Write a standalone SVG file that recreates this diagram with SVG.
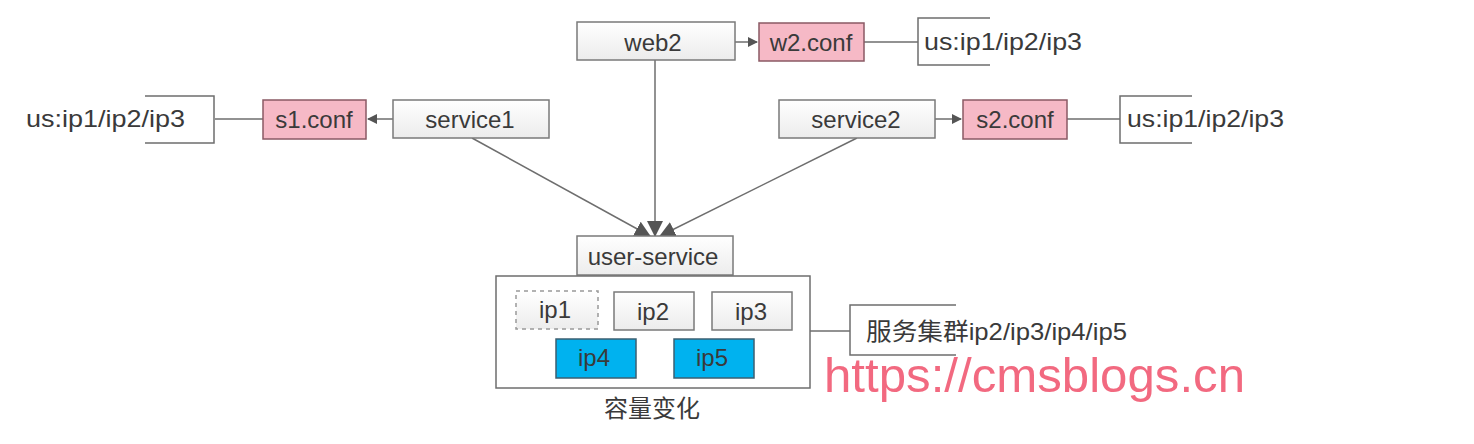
<svg xmlns="http://www.w3.org/2000/svg" width="1474" height="444" viewBox="0 0 1474 444">
<defs>
<linearGradient id="g" x1="0" y1="0" x2="0" y2="1"><stop offset="0" stop-color="#ffffff"/><stop offset="1" stop-color="#ececec"/></linearGradient>
<marker id="ah" markerWidth="10" markerHeight="10" refX="9" refY="5" orient="auto" markerUnits="userSpaceOnUse"><path d="M0,0 L10,5 L0,10 Z" fill="#555"/></marker>
<marker id="ah2" markerWidth="16" markerHeight="16" refX="15" refY="8" orient="auto" markerUnits="userSpaceOnUse"><path d="M0,0 L16,8 L0,16 Z" fill="#555"/></marker>
</defs>
<style>
.t{font-family:"Liberation Sans",Arial,"Noto Sans CJK SC",sans-serif;font-size:24px;fill:#3a3a3a}
.c{text-anchor:middle;dominant-baseline:central}
.box{fill:url(#g);stroke:#7a7a7a;stroke-width:1.5}
.pink{fill:#f6b9c6;stroke:#8a5a64;stroke-width:1.5}
.blue{fill:#00b2ef;stroke:#3b5f72;stroke-width:1.5}
.ln{stroke:#6e6e6e;stroke-width:1.5;fill:none}
.br{stroke:#6e6e6e;stroke-width:1.5;fill:none}
</style>
<rect width="1474" height="444" fill="#ffffff"/>
<g id="connectors">
<line class="ln" x1="735" y1="42" x2="757" y2="42" marker-end="url(#ah)"/>
<line class="ln" x1="864" y1="42" x2="918" y2="42"/>
<line class="ln" x1="393" y1="119" x2="368" y2="119" marker-end="url(#ah)"/>
<line class="ln" x1="263" y1="119" x2="215" y2="119"/>
<line class="ln" x1="935" y1="119" x2="961" y2="119" marker-end="url(#ah)"/>
<line class="ln" x1="1067" y1="119" x2="1120" y2="119"/>
<line class="ln" x1="472" y1="138" x2="650" y2="236" marker-end="url(#ah2)"/>
<line class="ln" x1="655" y1="60" x2="655" y2="236" marker-end="url(#ah2)"/>
<line class="ln" x1="857" y1="138" x2="660" y2="236" marker-end="url(#ah2)"/>
<line class="ln" x1="810" y1="331" x2="850" y2="331"/>
</g>
<g id="web2"><rect class="box" x="577" y="22" width="158" height="38"/><text class="t c" x="653" y="42">web2</text></g>
<g id="w2conf"><rect class="pink" x="759" y="23" width="105" height="38"/><text class="t c" x="811" y="42">w2.conf</text></g>
<g id="us-web2"><path class="br" d="M990,18 H918 V65 H990"/><text class="t" x="924" y="41" dominant-baseline="central" textLength="158" lengthAdjust="spacingAndGlyphs">us:ip1/ip2/ip3</text></g>
<g id="service1"><rect class="box" x="393" y="100" width="156" height="38"/><text class="t c" x="470" y="119">service1</text></g>
<g id="s1conf"><rect class="pink" x="263" y="100" width="103" height="39"/><text class="t c" x="314" y="119">s1.conf</text></g>
<g id="us-s1"><path class="br" d="M145,96 H214 V143 H145"/><text class="t" x="26" y="118" dominant-baseline="central" textLength="159" lengthAdjust="spacingAndGlyphs">us:ip1/ip2/ip3</text></g>
<g id="service2"><rect class="box" x="779" y="100" width="156" height="38"/><text class="t c" x="856" y="119">service2</text></g>
<g id="s2conf"><rect class="pink" x="963" y="100" width="104" height="39"/><text class="t c" x="1015" y="119">s2.conf</text></g>
<g id="us-s2"><path class="br" d="M1192,96 H1120 V143 H1192"/><text class="t" x="1127" y="118" dominant-baseline="central" textLength="157" lengthAdjust="spacingAndGlyphs">us:ip1/ip2/ip3</text></g>
<g id="user-service"><rect class="box" x="577" y="236" width="156" height="39"/><text class="t c" x="653" y="256">user-service</text></g>
<g id="cluster">
<rect x="496" y="276" width="314" height="112" fill="#ffffff" stroke="#6e6e6e" stroke-width="1.5"/>
<text class="t c" x="652" y="408">容量变化</text>
</g>
<g id="ip1"><rect x="516" y="291" width="82" height="38" fill="url(#g)" stroke="#999" stroke-width="1.5" stroke-dasharray="4,4"/><text class="t c" x="555" y="309">ip1</text></g>
<g id="ip2"><rect class="box" x="614" y="292" width="80" height="38"/><text class="t c" x="653" y="311">ip2</text></g>
<g id="ip3"><rect class="box" x="712" y="292" width="80" height="38"/><text class="t c" x="751" y="311">ip3</text></g>
<g id="ip4"><rect class="blue" x="556" y="339" width="80" height="39"/><text class="t c" x="594" y="357">ip4</text></g>
<g id="ip5"><rect class="blue" x="674" y="339" width="80" height="39"/><text class="t c" x="712" y="357">ip5</text></g>
<g id="cluster-note"><path class="br" d="M956,305 H850 V355 H956"/><text class="t" x="866" y="331" dominant-baseline="central" textLength="261" lengthAdjust="spacingAndGlyphs">服务集群ip2/ip3/ip4/ip5</text></g>
<text x="824" y="392" font-family="Liberation Sans,Arial,sans-serif" font-size="48" fill="#f0506a" opacity="0.85" textLength="421" lengthAdjust="spacingAndGlyphs">https://cmsblogs.cn</text>
</svg>
